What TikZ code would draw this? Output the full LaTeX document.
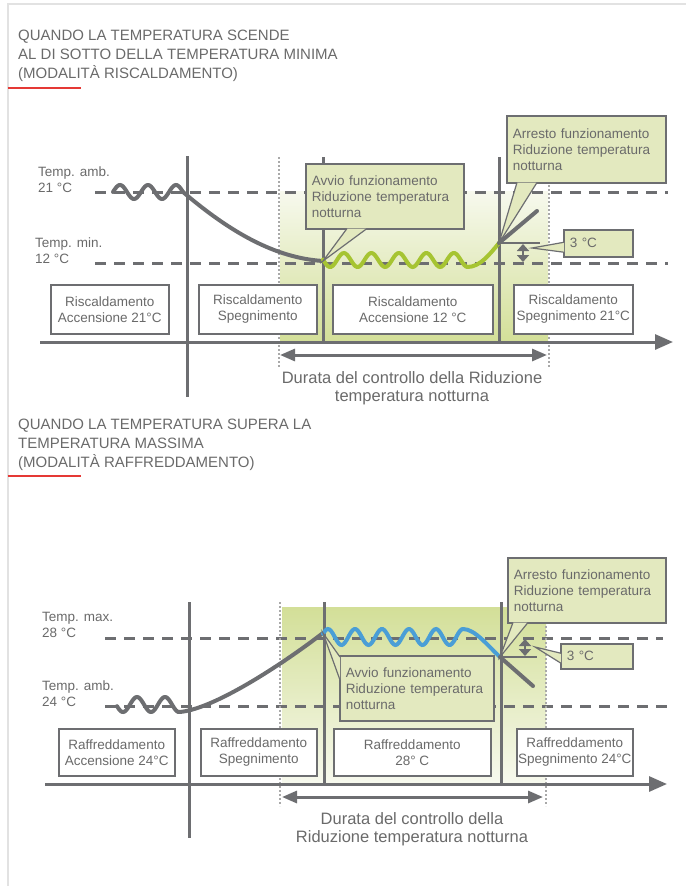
\documentclass[tikz,border=0pt]{standalone}
\usepackage{fontspec}
\setmainfont{Liberation Sans}
\usetikzlibrary{arrows.meta, positioning, calc}

\definecolor{linegray}{HTML}{6D6E71}
\definecolor{textgray}{HTML}{6A6A6A}
\definecolor{dotgray}{HTML}{A9A9A9}
\definecolor{framegray}{HTML}{E2E2E2}
\definecolor{calloutfill}{HTML}{E3E9BF}
\definecolor{zonegreen}{HTML}{D3DF98}
\definecolor{zonelight}{HTML}{F7F9EE}
\definecolor{wavegreen}{HTML}{A6C432}
\definecolor{waveblue}{HTML}{4A9ED6}
\definecolor{markred}{HTML}{E53935}

\newcommand{\lblfont}{\fontsize{13.5}{16}\selectfont}
\newcommand{\ttlfont}{\fontsize{15}{19}\selectfont}
\newcommand{\durfont}{\fontsize{16.5}{18}\selectfont}

\begin{document}
\begin{tikzpicture}[x=1pt, y=-1pt, >={Triangle[length=15pt, width=12pt]},
    ttl/.style={anchor=west, inner sep=0pt, align=left, text=textgray, font=\ttlfont},
    lbl/.style={anchor=west, inner sep=0pt, align=left, text=textgray, font=\lblfont},
    durlbl/.style={inner sep=0pt, align=center, text=textgray, font=\durfont},
    statebox/.style={draw=linegray, line width=1.5pt, fill=white, anchor=north west, inner sep=0pt, align=center, text=textgray, font=\lblfont},
    callout/.style={draw=linegray, line width=1.5pt, fill=calloutfill, anchor=north west, inner xsep=6pt, inner ysep=0pt, align=left, text=textgray, font=\lblfont},
    tip/.style={linegray, line width=1.2pt},
    level/.style={linegray, line width=3pt, dash pattern=on 11pt off 8pt},
    marker/.style={dotgray, line width=2pt, dash pattern=on 2pt off 2pt},
    event/.style={linegray, line width=3pt},
    trend/.style={linegray, line width=4pt, line cap=round},
    night/.style={line width=4pt, line cap=round},
    span/.style={linegray, line width=2pt, {Triangle[length=7pt, width=12pt]}-{Triangle[length=7pt, width=12pt]}}]
    \useasboundingbox (0,0) rectangle (686,886);

    \draw[framegray, line width=2pt] (686,4) -- (7.5,4) -- (7.5,886);

    % heating
    \node[ttl] (ttlA) at (18,56) {QUANDO LA TEMPERATURA SCENDE\\AL DI SOTTO DELLA TEMPERATURA MINIMA\\(MODALITÀ RISCALDAMENTO)};
    \draw[markred, line width=1.5pt] (7.5,88) -- (81,88);

    \shade[top color=zonelight, bottom color=zonegreen] (280,191) rectangle (548,342);
    \draw[level] (95,192) -- (668,192);
    \draw[level] (95,263) -- (668,263);
    \draw[marker] (279,157) -- (279,367);
    \draw[marker] (549,157) -- (549,367);
    \draw[event] (187,156) -- (187,397);
    \draw[event] (323,157) -- (323,342);
    \draw[event] (499,157) -- (499,342);
    \draw[event, -{Triangle[length=18pt, width=15pt]}] (40,342) -- (673,342);
    \draw[<->, linegray, line width=3pt] (280,355) -- (547,355);

    \node[lbl] (ambA) at (38,180) {Temp. amb.\\21 °C};
    \node[lbl] (minA) at (35,251) {Temp. min.\\12 °C};

    \coordinate (lowA) at (323,261);
    \coordinate (highA) at (499,243);
    \draw[trend] plot[domain=113:183, samples=60, smooth] (\x, {192-7*sin((\x-113)/28*360)});
    \draw[trend] (183,192) .. controls (230,232) and (275,258) .. (lowA);
    \draw[night, wavegreen] plot[domain=323:467.6, samples=90, smooth] (\x, {260-7*sin((\x-337)/27.5*360)});
    \draw[night, wavegreen] (467.6,267) .. controls (480,267) and (490,254) .. (highA);
    \draw[trend] (highA) -- (537,211);

    \draw[tip] (highA) -- (540,243);
    \draw[span] (523,244) -- (523,262);

    \node[statebox, minimum width=118pt, minimum height=49pt] (onA) at (50,284) {Riscaldamento\\Accensione 21°C};
    \node[statebox, minimum width=118pt, minimum height=49pt] (offA) at (198,284) {Riscaldamento\\Spegnimento};
    \node[statebox, minimum width=160pt, minimum height=49pt] (holdA) at (332,284) {Riscaldamento\\Accensione 12 °C};
    \node[statebox, minimum width=119pt, minimum height=49pt] (endA) at (513,284) {Riscaldamento\\Spegnimento 21°C};

    \node[callout, text width=146pt, minimum height=65pt] (avvioA) at (305,163) {Avvio funzionamento\\Riduzione temperatura\\notturna};
    \fill[calloutfill] ($(avvioA.south west)+(42,-1)$) -- (lowA) -- ($(avvioA.south west)+(62,-1)$) -- cycle;
    \draw[tip] ($(avvioA.south west)+(42,-1)$) -- (lowA) -- ($(avvioA.south west)+(62,-1)$);

    \node[callout, text width=147pt, minimum height=67pt] (arrestoA) at (506,115) {Arresto funzionamento\\Riduzione temperatura\\notturna};
    \fill[calloutfill] ($(arrestoA.south west)+(11,-1)$) -- (highA) -- ($(arrestoA.south west)+(31,-1)$) -- cycle;
    \draw[tip] ($(arrestoA.south west)+(11,-1)$) -- (highA) -- ($(arrestoA.south west)+(31,-1)$);

    \node[callout, text width=57pt, minimum height=27pt] (gapA) at (563,229) {3 °C};
    \coordinate (gapTipA) at (532,248);
    \fill[calloutfill] ($(gapA.west)+(1,-1)$) -- (gapTipA) -- ($(gapA.west)+(1,9)$) -- cycle;
    \draw[tip] ($(gapA.west)+(1,-1)$) -- (gapTipA) -- ($(gapA.west)+(1,9)$);

    \node[durlbl] (durA) at (412,388) {Durata del controllo della Riduzione\\temperatura notturna};

    % cooling
    \node[ttl] (ttlB) at (18,444.5) {QUANDO LA TEMPERATURA SUPERA LA\\TEMPERATURA MASSIMA\\(MODALITÀ RAFFREDDAMENTO)};
    \draw[markred, line width=1.5pt] (7.5,476) -- (81,476);

    \shade[top color=zonegreen, bottom color=zonelight] (282,607) rectangle (546,784);
    \draw[level] (105,638) -- (663,638);
    \draw[level] (105,706) -- (668,706);
    \draw[marker] (280,602) -- (280,806);
    \draw[marker] (546,602) -- (546,806);
    \draw[event] (189,602) -- (189,838);
    \draw[event] (324,602) -- (324,784);
    \draw[event] (501,602) -- (501,784);
    \draw[event, -{Triangle[length=18pt, width=15pt]}] (45,784) -- (667,784);
    \draw[<->, linegray, line width=3pt] (282,797) -- (543,797);

    \node[lbl] (maxB) at (42,625) {Temp. max.\\28 °C};
    \node[lbl] (ambB) at (42,694) {Temp. amb.\\24 °C};

    \coordinate (highB) at (323,633);
    \coordinate (lowB) at (500,657);
    \draw[trend] plot[domain=117:179, samples=60, smooth] (\x, {704.5-7.5*sin((\x-130)/28*360)});
    \draw[trend] (179,712) .. controls (212,710) and (280,666) .. (highB);
    \draw[night, waveblue] plot[domain=323:463, samples=90, smooth] (\x, {637-8*sin((\x-348.25)/27*360)});
    \draw[night, waveblue] (463,629) .. controls (475,629) and (488,646) .. (lowB);
    \draw[trend] (lowB) -- (533,686);

    \draw[tip] (lowB) -- (537,657);
    \draw[span] (525,639) -- (525,656);

    \node[statebox, minimum width=116pt, minimum height=47pt] (onB) at (58,728) {Raffreddamento\\Accensione 24°C};
    \node[statebox, minimum width=116pt, minimum height=47pt] (offB) at (200,728) {Raffreddamento\\Spegnimento};
    \node[statebox, minimum width=157pt, minimum height=47pt] (holdB) at (333,728) {Raffreddamento\\28° C};
    \node[statebox, minimum width=116pt, minimum height=47pt] (endB) at (516,728) {Raffreddamento\\Spegnimento 24°C};

    \node[callout, text width=142pt, minimum height=65pt] (avvioB) at (339,655) {Avvio funzionamento\\Riduzione temperatura\\notturna};
    \fill[calloutfill] ($(avvioB.north west)+(1,2)$) -- (highB) -- ($(avvioB.north west)+(1,25)$) -- cycle;
    \draw[tip] ($(avvioB.north west)+(1,2)$) -- (highB) -- ($(avvioB.north west)+(1,25)$);

    \node[callout, text width=146pt, minimum height=65pt] (arrestoB) at (507,557) {Arresto funzionamento\\Riduzione temperatura\\notturna};
    \fill[calloutfill] ($(arrestoB.south west)+(6,-1)$) -- (lowB) -- ($(arrestoB.south west)+(21,-1)$) -- cycle;
    \draw[tip] ($(arrestoB.south west)+(6,-1)$) -- (lowB) -- ($(arrestoB.south west)+(21,-1)$);

    \node[callout, text width=60pt, minimum height=25pt] (gapB) at (560,643) {3 °C};
    \coordinate (gapTipB) at (535,647);
    \fill[calloutfill] ($(gapB.west)+(1,-3)$) -- (gapTipB) -- ($(gapB.west)+(1,7)$) -- cycle;
    \draw[tip] ($(gapB.west)+(1,-3)$) -- (gapTipB) -- ($(gapB.west)+(1,7)$);

    \node[durlbl] (durB) at (412,829) {Durata del controllo della\\Riduzione temperatura notturna};
\end{tikzpicture}
\end{document}
